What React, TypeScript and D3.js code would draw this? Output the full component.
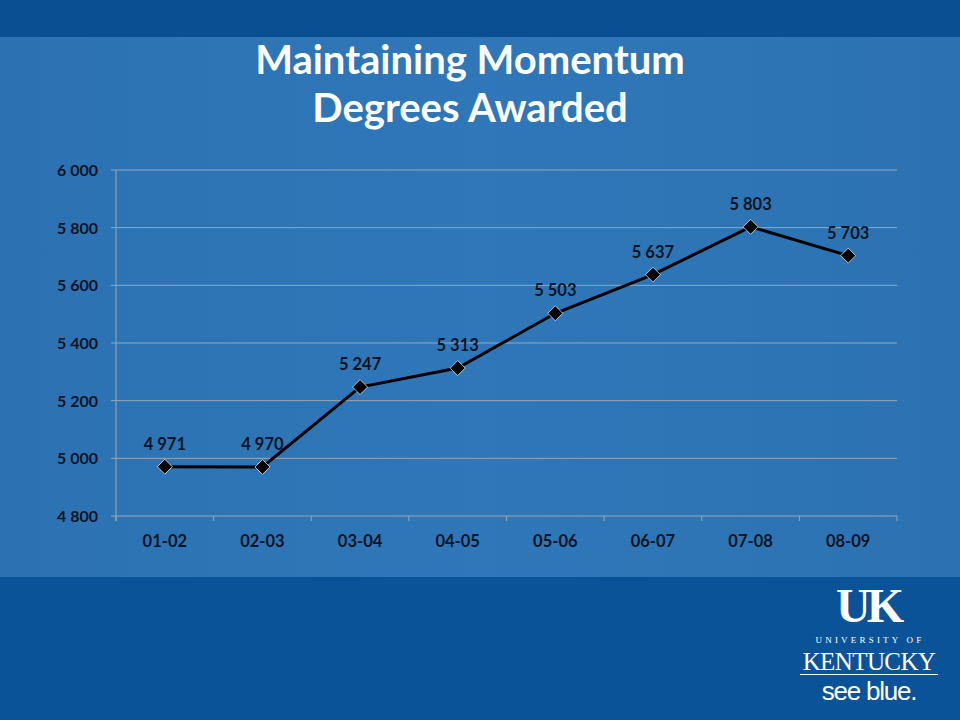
import React from "react";
import * as d3 from "d3";

const categories = ["01-02", "02-03", "03-04", "04-05", "05-06", "06-07", "07-08", "08-09"];
const degrees = [4971, 4970, 5247, 5313, 5503, 5637, 5803, 5703];
const yTicks = [4800, 5000, 5200, 5400, 5600, 5800, 6000];
const titleLines = ["Maintaining Momentum", "Degrees Awarded"];

const fmt = (v: number) => {
  const s = String(v);
  return s.length > 3 ? s.slice(0, s.length - 3) + " " + s.slice(-3) : s;
};

export default function App() {
  const W = 960, H = 720;
  const left = 116, right = 897, top = 170, bottom = 516;
  const x = d3.scaleBand<string>().domain(categories).range([left, right]);
  const y = d3.scaleLinear().domain([4800, 6000]).range([bottom, top]);
  const cx = (c: string) => (x(c) as number) + x.bandwidth() / 2;
  const line = d3.line<number>().x((_, i) => cx(categories[i])).y((d) => y(d));
  const font = "Lato, 'Open Sans', sans-serif";
  const textCol = "#0a1424";
  const gridCol = "#9aa7b4";
  const boundaries = categories.map((c) => x(c) as number).concat([right]);

  return (
    <div style={{ position: "absolute", left: 0, top: 0 }}>
      <style>{"body{margin:0}"}</style>
      <svg width={W} height={H} style={{ display: "block" }}>
        <defs>
          <linearGradient id="mid" x1="0" x2="1" y1="0" y2="0">
            <stop offset="0" stopColor="#2c72b3" />
            <stop offset="0.5" stopColor="#2f77b8" />
            <stop offset="1" stopColor="#2c72b3" />
          </linearGradient>
        </defs>
        <rect x={0} y={0} width={W} height={37} fill="#0b4f93" />
        <rect x={0} y={37} width={W} height={540} fill="url(#mid)" />
        <rect x={0} y={577} width={W} height={143} fill="#0b5399" />

        {titleLines.map((t, i) => (
          <text key={t} x={470} y={74 + i * 48} textAnchor="middle" fill="#ffffff"
            fontFamily={font} fontWeight={700} fontSize={40}>{t}</text>
        ))}

        {yTicks.map((v) => (
          <g key={v}>
            <line x1={111} x2={right} y1={y(v)} y2={y(v)} stroke={gridCol} strokeWidth={1} />
            <text x={98} y={y(v) + 6} textAnchor="end" fill={textCol} fontFamily={font}
              fontWeight={700} fontSize={16}>{fmt(v)}</text>
          </g>
        ))}
        <line x1={left} x2={left} y1={top} y2={bottom + 5} stroke={gridCol} strokeWidth={1} />
        {boundaries.map((b, i) => (
          <line key={i} x1={b} x2={b} y1={bottom} y2={bottom + 5} stroke={gridCol} strokeWidth={1} />
        ))}
        {categories.map((c) => (
          <text key={c} x={cx(c)} y={547} textAnchor="middle" fill={textCol} fontFamily={font}
            fontWeight={700} fontSize={16.5}>{c}</text>
        ))}

        <path d={line(degrees) || ""} fill="none" stroke="#000" strokeWidth={3} />
        {degrees.map((v, i) => {
          const px = cx(categories[i]), py = y(v);
          return (
            <g key={i}>
              <path d={`M${px},${py - 7.5}L${px + 7.5},${py}L${px},${py + 7.5}L${px - 7.5},${py}Z`}
                fill="#000" stroke="#d8e4f0" strokeWidth={0.8} />
              <text x={px} y={py - 17} textAnchor="middle" fill={textCol} fontFamily={font}
                fontWeight={700} fontSize={16.5}>{fmt(v)}</text>
            </g>
          );
        })}

        <g fill="#ffffff">
          <text x={868} y={622} textAnchor="middle" fontFamily="'Liberation Serif', 'DejaVu Serif', serif"
            fontWeight={700} fontSize={48} letterSpacing={-4}>UK</text>
          <text x={870} y={643} textAnchor="middle" fontFamily="'Liberation Serif', serif"
            fontSize={9} letterSpacing={3.2}>UNIVERSITY OF</text>
          <text x={869} y={670} textAnchor="middle" fontFamily="'Liberation Serif', serif"
            fontSize={25} letterSpacing={-0.6}>KENTUCKY</text>
          <rect x={800} y={674} width={138} height={1} />
          <text x={869} y={700} textAnchor="middle" fontFamily="'Liberation Sans', Arial, sans-serif"
            fontSize={26} letterSpacing={-1.2}>see blue.</text>
        </g>
      </svg>
    </div>
  );
}
